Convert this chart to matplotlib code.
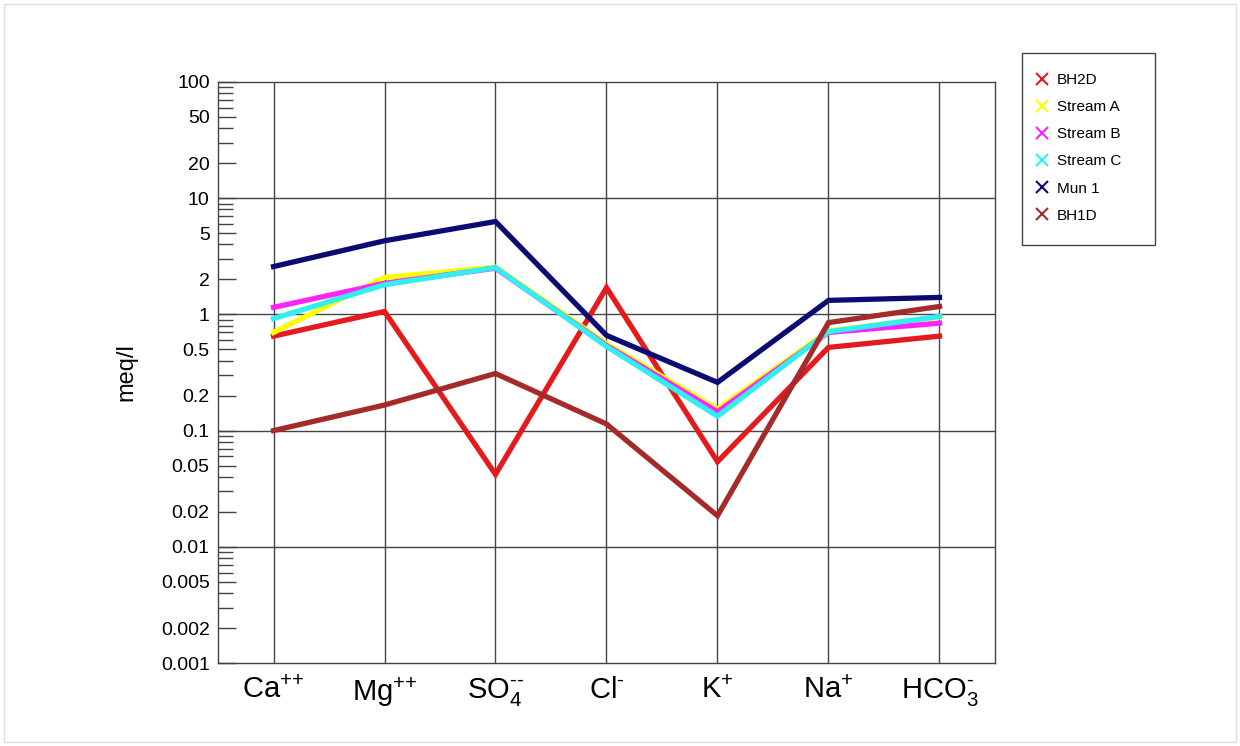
import matplotlib
matplotlib.use("Agg")
import matplotlib.pyplot as plt
from matplotlib.lines import Line2D
from matplotlib.patches import Rectangle
from matplotlib.ticker import FixedLocator, NullFormatter, FixedFormatter

plt.rcParams["font.family"] = ["Liberation Sans", "DejaVu Sans"]
plt.rcParams["mathtext.fontset"] = "custom"
plt.rcParams["mathtext.rm"] = "Liberation Sans"
plt.rcParams["mathtext.it"] = "Liberation Sans"

# ions along the x axis
ions = [r"Ca$^{\text{++}}$", r"Mg$^{\text{++}}$", r"SO$_4^{\text{--}}$",
        r"Cl$^{\text{-}}$", r"K$^{\text{+}}$", r"Na$^{\text{+}}$",
        r"HCO$_3^{\text{-}}$"]

# meq/l
bh2d     = [0.65, 1.06, 0.042, 1.70, 0.054, 0.52, 0.65]
stream_a = [0.70, 2.08, 2.55, 0.56, 0.153, 0.72, 0.95]
stream_b = [1.15, 1.85, 2.50, 0.54, 0.145, 0.70, 0.84]
stream_c = [0.92, 1.80, 2.53, 0.53, 0.133, 0.71, 0.96]
mun1     = [2.58, 4.30, 6.30, 0.66, 0.26, 1.32, 1.40]
bh1d     = [0.10, 0.166, 0.31, 0.114, 0.0185, 0.85, 1.17]

names = ["BH2D", "Stream A", "Stream B", "Stream C", "Mun 1", "BH1D"]
series = [bh2d, stream_a, stream_b, stream_c, mun1, bh1d]
colors = ["#e41a1c", "#ffff00", "#ff22ff", "#33eef0", "#0b0b72", "#a52a2a"]

ytick_vals = [0.001, 0.002, 0.005, 0.01, 0.02, 0.05, 0.1, 0.2, 0.5,
              1, 2, 5, 10, 20, 50, 100]
ytick_text = ["0.001", "0.002", "0.005", "0.01", "0.02", "0.05", "0.1", "0.2",
              "0.5", "1", "2", "5", "10", "20", "50", "100"]

fig = plt.figure(figsize=(12.4, 7.46), dpi=100)
ax = fig.add_axes([218 / 1240, 83 / 746, 777 / 1240, 581 / 746])

x = list(range(len(ions)))
for vals, c in zip(series, colors):
    ax.plot(x, vals, color=c, lw=3.8, solid_joinstyle="miter", zorder=3)

ax.set_yscale("log")
ax.set_ylim(0.001, 100)
ax.set_xlim(-0.5, len(ions) - 0.5)

# decade grid lines and one vertical line per ion
for k in range(-2, 2):
    ax.axhline(10.0 ** k, color="#444444", lw=1.0, zorder=1)
for xi in x:
    ax.axvline(xi, color="#444444", lw=1.0, zorder=1)

ax.yaxis.set_major_locator(FixedLocator(ytick_vals))
ax.yaxis.set_major_formatter(FixedFormatter(ytick_text))
minor = [m * 10.0 ** k for k in range(-3, 2) for m in (3, 4, 6, 7, 8, 9)]
ax.yaxis.set_minor_locator(FixedLocator(minor))
ax.yaxis.set_minor_formatter(NullFormatter())
ax.tick_params(axis="y", which="major", direction="in", length=13, width=1,
               color="#444444", labelsize=14, pad=6)
ax.tick_params(axis="y", which="minor", direction="in", length=11, width=1,
               color="#444444")

ax.set_xticks(x)
ax.set_xticklabels(ions, fontsize=21)
ax.tick_params(axis="x", length=0, pad=9)

for s in ax.spines.values():
    s.set_color("#444444")
    s.set_linewidth(1.0)

ax.set_ylabel("meq/l", fontsize=17, labelpad=17)

# legend: fixed box, markers only
fig.patches.append(Rectangle((1022 / 1240, 1 - 245 / 746), 133 / 1240, 192 / 746,
                             transform=fig.transFigure, fill=False,
                             edgecolor="#444444", lw=1))
handles = [Line2D([], [], ls="none", marker="x", ms=8, mew=1.5, color=c)
           for c in colors]
fig.legend(handles, names, loc="upper left",
           bbox_to_anchor=(1033 / 1240, 1 - 73 / 746),
           fontsize=11, frameon=False, labelspacing=0.86, handletextpad=0.35,
           handlelength=1.2, borderpad=0, borderaxespad=0)

# faint frame round the whole picture
fig.patches.append(Rectangle((4 / 1240, 4 / 746), 1232 / 1240, 738 / 746,
                             transform=fig.transFigure, fill=False,
                             edgecolor="#dddddd", lw=1))

fig.savefig("out.png", dpi=100, facecolor="white")
